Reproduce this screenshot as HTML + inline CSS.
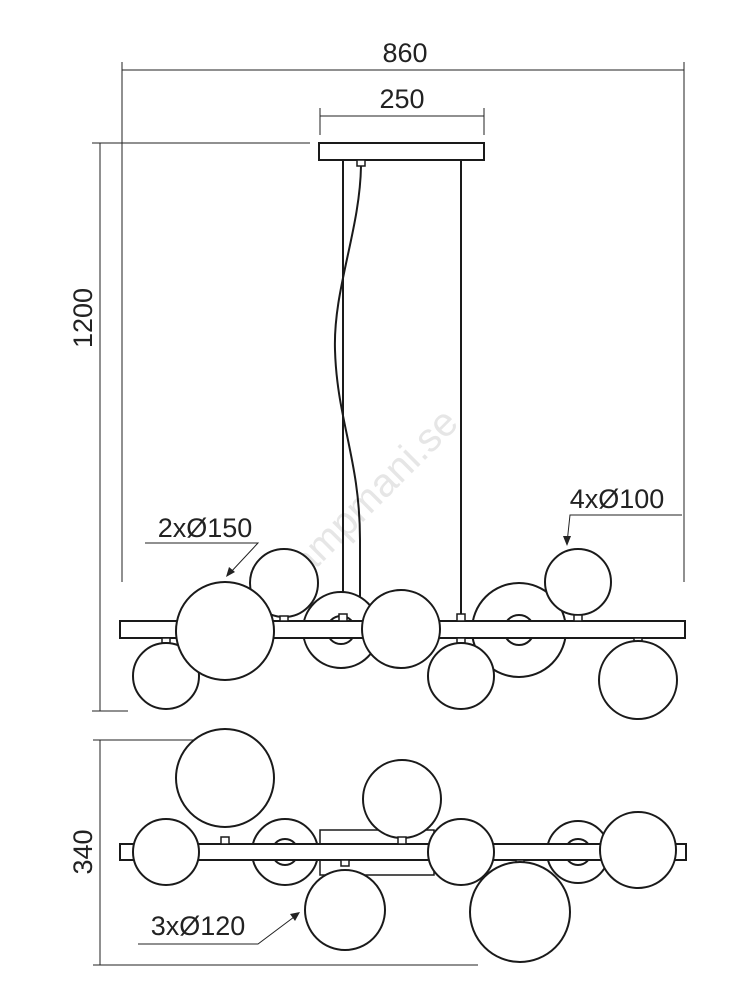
<!DOCTYPE html>
<html><head><meta charset="utf-8"><style>
html,body{margin:0;padding:0;background:#fff;}
svg{display:block}
text{font-family:"Liberation Sans",sans-serif;fill:#222;}
</style></head><body>
<svg width="750" height="1000" viewBox="0 0 750 1000" xmlns="http://www.w3.org/2000/svg">
<g stroke="#222" fill="none" stroke-width="1">
<!-- dims top -->
<line x1="122" y1="70" x2="684" y2="70"/>
<line x1="122" y1="62" x2="122" y2="582"/>
<line x1="684" y1="62" x2="684" y2="582"/>
<line x1="320" y1="116" x2="484" y2="116"/>
<line x1="320" y1="108" x2="320" y2="135"/>
<line x1="484" y1="108" x2="484" y2="135"/>
<line x1="100" y1="143" x2="100" y2="711"/>
<line x1="92" y1="143" x2="310" y2="143"/>
<line x1="92" y1="711" x2="128" y2="711"/>
<!-- labels leaders -->
<polyline points="145,543 258,543 230,573"/>
<polyline points="682,515 570,515 567,543"/>
<line x1="100" y1="740" x2="100" y2="965"/>
<line x1="93" y1="740" x2="195" y2="740"/>
<line x1="93" y1="965" x2="478" y2="965"/>
<polyline points="138,944 258,944 298,914"/>
</g>
<g fill="#222">
<polygon points="226,577 229,567 235,572"/>
<polygon points="567,546 563,536 571,536"/>
<polygon points="300,912 290,914 295,921"/>
</g>
<text x="405" y="62" font-size="27" text-anchor="middle">860</text>
<text x="402" y="108" font-size="27" text-anchor="middle">250</text>
<text x="0" y="0" font-size="27" text-anchor="middle" transform="translate(92,318) rotate(-90)">1200</text>
<text x="0" y="0" font-size="27" text-anchor="middle" transform="translate(92,852) rotate(-90)">340</text>
<text x="205" y="537" font-size="27" text-anchor="middle">2xØ150</text>
<text x="617" y="508" font-size="27" text-anchor="middle">4xØ100</text>
<text x="198" y="935" font-size="27" text-anchor="middle">3xØ120</text>
<text x="0" y="0" font-size="40" fill="#e4e4e4" style="fill:#e6e6e6" text-anchor="middle" transform="translate(380,505) rotate(-45)">lampmani.se</text>

<g stroke="#1a1a1a" fill="#fff" stroke-width="2">
<!-- canopy -->
<rect x="319" y="143" width="165" height="17"/>
<rect x="357" y="160" width="8" height="6" stroke-width="1.5"/>
<line x1="343" y1="160" x2="343" y2="618"/>
<line x1="461" y1="160" x2="461" y2="618"/>
<path d="M361,166 C360,230 333,290 335,350 C337,420 360,460 360,540 L360,622" fill="none"/>
<!-- front view -->
<circle cx="341" cy="630" r="38"/>
<circle cx="341" cy="630" r="14"/>
<circle cx="519" cy="630" r="47"/>
<circle cx="519" cy="630" r="15"/>
<circle cx="284" cy="583" r="34"/>
<circle cx="578" cy="582" r="33"/>
<rect x="120" y="621" width="565" height="17"/>
<rect x="339" y="614" width="8" height="7" stroke-width="1.5"/>
<rect x="457" y="614" width="8" height="7" stroke-width="1.5"/>
<rect x="280" y="616" width="8" height="5" stroke-width="1.5"/>
<rect x="574" y="615" width="8" height="6" stroke-width="1.5"/>
<rect x="162" y="638" width="8" height="5" stroke-width="1.5"/>
<rect x="457" y="638" width="8" height="5" stroke-width="1.5"/>
<rect x="634" y="638" width="8" height="5" stroke-width="1.5"/>
<circle cx="166" cy="676" r="33"/>
<circle cx="461" cy="676" r="33"/>
<circle cx="638" cy="680" r="39"/>
<circle cx="225" cy="631" r="49"/>
<circle cx="401" cy="629" r="39"/>
<!-- bottom view -->
<rect x="320" y="830" width="114" height="45" stroke-width="1.5"/>
<circle cx="285" cy="852" r="33"/>
<circle cx="285" cy="852" r="13"/>
<circle cx="578" cy="852" r="31"/>
<circle cx="578" cy="852" r="13"/>
<circle cx="225" cy="778" r="49"/>
<circle cx="402" cy="799" r="39"/>
<rect x="120" y="844" width="566" height="16"/>
<rect x="221" y="837" width="8" height="7" stroke-width="1.5"/>
<rect x="398" y="837" width="8" height="7" stroke-width="1.5"/>
<rect x="341" y="860" width="8" height="6" stroke-width="1.5"/>
<rect x="516" y="860" width="8" height="6" stroke-width="1.5"/>
<circle cx="166" cy="852" r="33"/>
<circle cx="461" cy="852" r="33"/>
<circle cx="638" cy="850" r="38"/>
<circle cx="345" cy="910" r="40"/>
<circle cx="520" cy="912" r="50"/>
</g>
</svg>
</body></html>
